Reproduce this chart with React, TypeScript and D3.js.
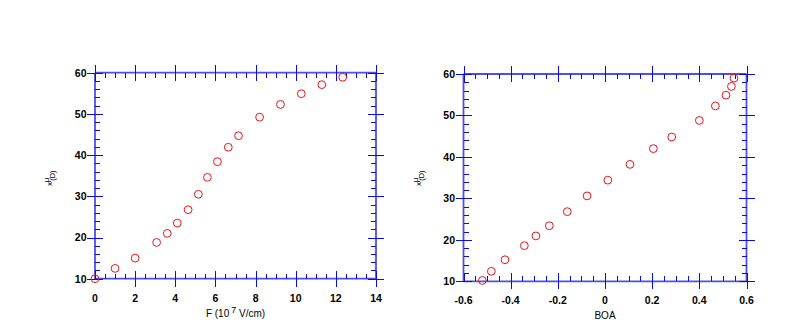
import React from 'react';
import * as d3 from 'd3';

// ---- data ----
const fieldF = [0, 1.0, 2.0, 3.07, 3.6, 4.1, 4.64, 5.15, 5.6, 6.1, 6.64, 7.15, 8.2, 9.24, 10.28, 11.3, 12.34];
const muVsF = [10.0, 12.5, 15.0, 18.8, 21.0, 23.5, 26.75, 30.5, 34.6, 38.4, 41.9, 44.7, 49.2, 52.3, 54.9, 57.1, 58.9];
const boa = [-0.52, -0.482, -0.424, -0.342, -0.293, -0.236, -0.16, -0.076, 0.012, 0.106, 0.205, 0.283, 0.4, 0.468, 0.513, 0.536, 0.547];
const muVsBoa = [10.2, 12.4, 15.2, 18.6, 20.95, 23.4, 26.8, 30.6, 34.4, 38.2, 42.0, 44.8, 48.8, 52.3, 54.9, 57.0, 59.0];

const xTicksF = [0, 2, 4, 6, 8, 10, 12, 14];
const xLabelsF = ['0', '2', '4', '6', '8', '10', '12', '14'];
const xTicksBoa = [-0.6, -0.4, -0.2, 0, 0.2, 0.4, 0.6];
const xLabelsBoa = ['-0.6', '-0.4', '-0.2', '0', '0.2', '0.4', '0.6'];
const yTicks = [10, 20, 30, 40, 50, 60];
const yLabels = ['10', '20', '30', '40', '50', '60'];

const AXIS_COLOR = '#5050e4';
const TICK_COLOR = '#0a0ae6';
const MARK_COLOR = '#e8141a';
const FONT = 'Liberation Sans, Arial, sans-serif';

type PanelProps = {
  left: number; right: number; top: number; bottom: number;
  xDomain: [number, number];
  xTicks: number[]; xLabels: string[]; xMinorStep: number;
  xs: number[]; ys: number[];
  xTitle: React.ReactNode; xTitleY: number;
  yTitleX: number; yTitleY: number;
};

function Panel(p: PanelProps) {
  const x = d3.scaleLinear().domain(p.xDomain).range([p.left, p.right]);
  const y = d3.scaleLinear().domain([10, 60]).range([p.bottom, p.top]);
  const MAJ = 8, MIN = 5;
  const eps = 1e-9;
  const xMinor = d3.range(p.xDomain[0], p.xDomain[1] + eps, p.xMinorStep)
    .filter(v => !p.xTicks.some(t => Math.abs(t - v) < 1e-6));
  const yMinor = d3.range(10, 60 + eps, 2).filter(v => !yTicks.some(t => Math.abs(t - v) < 1e-6));
  const lines: React.ReactNode[] = [];
  p.xTicks.forEach((t, i) => {
    const px = Math.round(x(t)) + 0.5;
    const outB = i === 0 ? 0 : MAJ;
    lines.push(<line key={`xb${i}`} x1={px} x2={px} y1={p.bottom - MAJ} y2={p.bottom + outB} />);
    lines.push(<line key={`xt${i}`} x1={px} x2={px} y1={p.top - MAJ} y2={p.top + MAJ} />);
  });
  xMinor.forEach((t, i) => {
    const px = Math.round(x(t)) + 0.5;
    lines.push(<line key={`xbm${i}`} x1={px} x2={px} y1={p.bottom - MIN} y2={p.bottom} />);
    lines.push(<line key={`xtm${i}`} x1={px} x2={px} y1={p.top} y2={p.top + MIN} />);
  });
  yTicks.forEach((t, i) => {
    const py = Math.round(y(t)) + 0.5;
    lines.push(<line key={`yl${i}`} y1={py} y2={py} x1={p.left - MAJ} x2={p.left + MAJ} />);
    lines.push(<line key={`yr${i}`} y1={py} y2={py} x1={p.right - MAJ} x2={p.right + MAJ} />);
  });
  yMinor.forEach((t, i) => {
    const py = Math.round(y(t)) + 0.5;
    lines.push(<line key={`ylm${i}`} y1={py} y2={py} x1={p.left} x2={p.left + MIN} />);
    lines.push(<line key={`yrm${i}`} y1={py} y2={py} x1={p.right - MIN} x2={p.right} />);
  });

  return (
    <g>
      <g stroke={AXIS_COLOR} strokeWidth={1.8} fill="none">
        <line x1={p.left} x2={p.right} y1={p.top} y2={p.top} />
        <line x1={p.left} x2={p.right} y1={p.bottom} y2={p.bottom} />
        <line x1={p.left} x2={p.left} y1={p.top} y2={p.bottom} />
        <line x1={p.right} x2={p.right} y1={p.top} y2={p.bottom} />
      </g>
      <g stroke={TICK_COLOR} strokeWidth={1} shapeRendering="crispEdges">{lines}</g>
      <g fontFamily={FONT} fontSize={10.5} fontWeight="bold" fill="#000">
        {p.xTicks.map((t, i) => (
          <text key={`xl${i}`} x={x(t)} y={p.bottom + 23} textAnchor="middle">{p.xLabels[i]}</text>
        ))}
        {yTicks.map((t, i) => (
          <text key={`yl${i}`} x={p.left - 8.5} y={y(t) + 3.8} textAnchor="end">{yLabels[i]}</text>
        ))}
      </g>
      <text x={(p.left + p.right) / 2} y={p.xTitleY} textAnchor="middle" fontFamily={FONT} fontSize={10} fill="#000">{p.xTitle}</text>
      <g transform={`translate(${p.yTitleX},${p.yTitleY}) rotate(-90)`} fontFamily={FONT} fill="#000">
        <text x={0} y={0} fontSize={8}>x</text>
        <text x={3.8} y={-3} fontSize={8}>μ</text>
        <text x={5.2} y={3} fontSize={7.5}>(D)</text>
      </g>
      <g fill="none" stroke={MARK_COLOR} strokeWidth={1}>
        {p.xs.map((v, i) => (
          <circle key={i} cx={x(v)} cy={y(p.ys[i])} r={3.9} />
        ))}
      </g>
    </g>
  );
}

export default function App() {
  return (
    <svg width={799} height={332} style={{ position: 'absolute', left: 0, top: 0, background: '#fff' }}>
      <rect width={799} height={332} fill="#fff" />
      <Panel
        left={95} right={376} top={72.7} bottom={278.7}
        xDomain={[0, 14]} xTicks={xTicksF} xLabels={xLabelsF} xMinorStep={0.5}
        xs={fieldF} ys={muVsF}
        xTitle={<>F (10<tspan dx={2} dy={-4} fontSize={9}>7</tspan><tspan dy={4}> V/cm)</tspan></>}
        xTitleY={317}
        yTitleX={52} yTitleY={186}
      />
      <Panel
        left={463.5} right={746.5} top={74} bottom={281.3}
        xDomain={[-0.6, 0.6]} xTicks={xTicksBoa} xLabels={xLabelsBoa} xMinorStep={0.05}
        xs={boa} ys={muVsBoa}
        xTitle={'BOA'}
        xTitleY={319}
        yTitleX={421} yTitleY={186}
      />
    </svg>
  );
}
